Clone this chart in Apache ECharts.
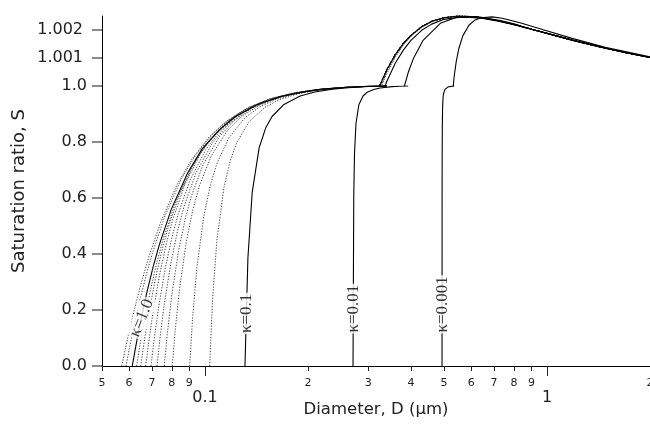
<!DOCTYPE html>
<html><head><meta charset="utf-8">
<script src="https://cdn.jsdelivr.net/npm/echarts@6/dist/echarts.min.js"></script>
<style>html,body{margin:0;padding:0;background:#fff}#c{width:650px;height:429px}</style>
</head><body><div id="c"></div>
<script>
// ---- tick labels ----
const minorTickD = [0.05,0.06,0.07,0.08,0.09,0.2,0.3,0.4,0.5,0.6,0.7,0.8,0.9,2];
const minorTickText = ['5','6','7','8','9','2','3','4','5','6','7','8','9','2'];
const majorTickD = [0.1,1];
const majorTickText = ['0.1','1'];
const yHighTicks = [1.001,1.002];

// ---- curves: [diameter (um), saturation ratio] ----
const k120 = [[0.0571,0],[0.05824,0.0503],[0.05996,0.1202],[0.06281,0.2235],[0.06567,0.3125],[0.06852,0.3893],[0.07423,0.5137],[0.0828,0.6468],[0.09136,0.7375],[0.10278,0.8176],[0.1142,0.8696],[0.13133,0.9175],[0.15417,0.9525],[0.18272,0.9748]];
const k110 = [[0.05875,0],[0.05993,0.0546],[0.06169,0.1296],[0.06463,0.2389],[0.06756,0.3316],[0.0705,0.4103],[0.07638,0.5356],[0.08519,0.6669],[0.094,0.7545],[0.10575,0.831],[0.1175,0.8798],[0.13513,0.9246],[0.15863,0.957],[0.188,0.9773]];
const k100 = [[0.0613,0],[0.06253,0.0597],[0.06437,0.1406],[0.06743,0.2566],[0.0705,0.3528],[0.07356,0.4335],[0.07969,0.5593],[0.08889,0.6881],[0.09808,0.7755],[0.11034,0.8444],[0.1226,0.8901],[0.141,0.9316],[0.16551,0.9613],[0.19616,0.98]];
const k090 = [[0.06313,0],[0.06439,0.0658],[0.06629,0.1538],[0.06944,0.2772],[0.0726,0.3773],[0.07576,0.4598],[0.08207,0.5856],[0.09154,0.7109],[0.10101,0.7911],[0.11363,0.8587],[0.12626,0.901],[0.1452,0.9389],[0.17045,0.9658],[0.20202,0.9827]];
const k080 = [[0.06486,0],[0.06616,0.0734],[0.0681,0.1698],[0.07135,0.3015],[0.07459,0.4055],[0.07783,0.4895],[0.08432,0.6145],[0.09405,0.7355],[0.10378,0.8109],[0.11675,0.8736],[0.12972,0.912],[0.14918,0.9463],[0.17512,0.9705],[0.20755,0.9853]];
const k070 = [[0.06709,0],[0.06843,0.0829],[0.07044,0.1894],[0.0738,0.3303],[0.07715,0.4385],[0.08051,0.5233],[0.08722,0.6464],[0.09728,0.7615],[0.10734,0.8317],[0.12076,0.8888],[0.13418,0.9235],[0.15431,0.9539],[0.18114,0.9752],[0.21469,0.988]];
const k065 = [[0.06953,0],[0.07092,0.0887],[0.07301,0.2008],[0.07648,0.3468],[0.07996,0.4567],[0.08344,0.5418],[0.09039,0.6633],[0.10082,0.7751],[0.11125,0.8423],[0.12515,0.8963],[0.13906,0.9289],[0.15992,0.9575],[0.18773,0.9773],[0.2225,0.9892]];
const k058 = [[0.0724,0],[0.07385,0.0981],[0.07602,0.2197],[0.07964,0.373],[0.08326,0.4853],[0.08688,0.5702],[0.09412,0.6888],[0.10498,0.7951],[0.11584,0.8576],[0.13032,0.9073],[0.1448,0.937],[0.16652,0.9627],[0.19548,0.9804],[0.23168,0.9911]];
const k050 = [[0.07603,0],[0.07755,0.1121],[0.07983,0.2461],[0.08363,0.4084],[0.08743,0.5226],[0.09124,0.6066],[0.09884,0.7206],[0.11024,0.8192],[0.12165,0.876],[0.13685,0.9202],[0.15206,0.9463],[0.17487,0.9687],[0.20528,0.9839],[0.2433,0.9931]];
const k043 = [[0.08024,0],[0.08184,0.1278],[0.08425,0.275],[0.08826,0.4455],[0.09228,0.5604],[0.09629,0.6425],[0.10431,0.7506],[0.11635,0.8415],[0.12838,0.8925],[0.14443,0.9317],[0.16048,0.9545],[0.18455,0.9739],[0.21665,0.987],[0.25677,0.9947]];
const k030 = [[0.09022,0],[0.09202,0.1733],[0.09473,0.3521],[0.09924,0.5358],[0.10375,0.6474],[0.10826,0.7221],[0.11729,0.8141],[0.13082,0.8864],[0.14435,0.9251],[0.1624,0.9537],[0.18044,0.9701],[0.20751,0.9837],[0.24359,0.9928],[0.2887,0.9978],[0.30,0.99868],[0.32,0.99973],[0.34,1.0005],[0.36,1.00106],[0.38,1.00147],[0.40,1.00178],[0.43,1.0021],[0.46,1.00229]];
const k020 = [[0.1032,0],[0.10526,0.239],[0.10836,0.4493],[0.11352,0.6351],[0.11868,0.7355],[0.12384,0.7979],[0.13416,0.8703],[0.14964,0.9239],[0.16512,0.9513],[0.18576,0.9712],[0.2064,0.9821],[0.23736,0.9911],[0.27864,0.9969],[0.30,0.99859],[0.32,0.99967],[0.34,1.00044],[0.36,1.00103],[0.38,1.00146],[0.40,1.00177],[0.43,1.00209],[0.46,1.00229]];
const k010 = [[0.1309,0],[0.13352,0.3857],[0.13745,0.6212],[0.14399,0.7793],[0.15054,0.8506],[0.15708,0.8911],[0.17017,0.9343],[0.18981,0.9641],[0.20944,0.9785],[0.23562,0.9885],[0.2618,0.9939],[0.30107,0.9981],[0.32,0.99927],[0.34,1.00016],[0.36,1.00081],[0.38,1.00128],[0.40,1.00163],[0.43,1.00199],[0.46,1.00221],[0.50,1.00238],[0.55,1.00245],[0.60,1.00245],[0.65,1.00241],[0.72,1.00231],[0.80,1.00219]];
const k001 = [[0.2709,0],[0.27226,0.6059],[0.27361,0.7577],[0.27632,0.8662],[0.28174,0.9328],[0.28986,0.9644],[0.29799,0.9776],[0.31154,0.9878],[0.32508,0.9928],[0.35217,0.99765],[0.37926,0.99982],[0.3928,1.00048],[0.40635,1.00097],[0.43344,1.00162],[0.48762,1.00224],[0.5418,1.00245],[0.6231,1.00248],[0.7314,1.00234],[0.80,1.00222]];
const k0001 = [[0.4932,0],[0.49345,0.6027],[0.49369,0.7534],[0.49419,0.861],[0.49517,0.9273],[0.49665,0.9588],[0.49813,0.9722],[0.50306,0.988],[0.51293,0.99612],[0.52772,0.99955],[0.53512,1.00033],[0.54252,1.00086],[0.55238,1.00134],[0.56718,1.00179],[0.59184,1.00218],[0.6165,1.00236],[0.64116,1.00244],[0.69048,1.00247],[0.7398,1.00242],[0.83844,1.00225],[0.9864,1.00199],[1.1837,1.0017],[1.4796,1.00138],[2.0,1.00104]];
// common approach to S = 1 for the kappa >= 0.4 curves, and the common Kelvin branch
const tailLow = [[0.22,0.9887],[0.26,0.9955]];
const tailRise = [[0.30,0.99885],[0.32,0.99985],[0.34,1.00058],[0.36,1.00112],[0.38,1.00152],[0.40,1.00181],[0.43,1.00212],[0.46,1.00231]];
const tailPeak = [[0.50,1.00244],[0.55,1.0025],[0.60,1.00248],[0.65,1.00243],[0.72,1.00233]];
const tailKelvin = [[0.80,1.0022],[0.90,1.00203],[1.0,1.00188],[1.2,1.00162],[1.4,1.00142],[1.7,1.00119],[2.0,1.00102]];

// curve labels
const labelText = ['κ=1.0','κ=0.1','κ=0.01','κ=0.001'];
const labelD = [0.0653,0.1321,0.2712,0.4934];
const labelS = [0.171,0.188,0.205,0.22];

// ---- build ----
const L = v => Math.log10(v);
const XMIN = L(0.05), XMAX = L(2);
const curves = [
  {pts: k120.concat(tailLow, tailRise, tailPeak, tailKelvin), dotted: true},
  {pts: k110.concat(tailLow, tailRise, tailPeak, tailKelvin), dotted: true},
  {pts: k090.concat(tailLow, tailRise, tailPeak, tailKelvin), dotted: true},
  {pts: k080.concat(tailLow, tailRise, tailPeak, tailKelvin), dotted: true},
  {pts: k070.concat(tailLow.slice(1), tailRise, tailPeak, tailKelvin), dotted: true},
  {pts: k065.concat(tailLow.slice(1), tailRise, tailPeak, tailKelvin), dotted: true},
  {pts: k058.concat(tailLow.slice(1), tailRise, tailPeak, tailKelvin), dotted: true},
  {pts: k050.concat(tailLow.slice(1), tailRise, tailPeak, tailKelvin), dotted: true},
  {pts: k043.concat(tailRise, tailPeak, tailKelvin), dotted: true},
  {pts: k030.concat(tailPeak, tailKelvin), dotted: true},
  {pts: k020.concat(tailPeak, tailKelvin), dotted: true},
  {pts: k100.concat(tailLow, tailRise, tailPeak, tailKelvin), dotted: false},
  {pts: k010.concat(tailKelvin.slice(1)), dotted: false},
  {pts: k001.concat(tailKelvin.slice(1)), dotted: false},
  {pts: k0001, dotted: false}
];
// split each curve at S = 1: lower panel up to the first point above 1, upper panel from the last point below 1
function lowerPart(pts) {
  const out = [];
  for (const p of pts) { out.push(p); if (p[1] > 1) break; }
  return out;
}
function upperPart(pts) {
  let k = 0;
  for (let i = 0; i < pts.length; i++) if (pts[i][1] < 1) k = i;
  return pts.slice(k);
}
const series = [];
curves.forEach(c => {
  const parts = [lowerPart(c.pts), upperPart(c.pts)];
  [0, 1].forEach(g => {
    series.push({
      type: 'line', xAxisIndex: g, yAxisIndex: g, data: parts[g].map(p => [L(p[0]), p[1]]),
      showSymbol: false, clip: true, silent: true, z: c.dotted ? 2 : 3,
      lineStyle: c.dotted ? {color: '#3a3a3a', width: 1, type: [1.2, 1.6]} : {color: '#000', width: 1.1}
    });
  });
});
const labelRot = [68, 90, 90, 90];
series.push({
  type: 'scatter', xAxisIndex: 0, yAxisIndex: 0, symbolSize: 1, z: 10, silent: true,
  itemStyle: {color: 'rgba(0,0,0,0)'},
  data: labelText.map((t, i) => ({value: [L(labelD[i]), labelS[i]], name: t,
    label: {rotate: labelRot[i]}})),
  label: {show: true, position: 'inside', formatter: p => p.name, color: '#000',
    fontFamily: 'Liberation Serif', fontSize: 17, backgroundColor: '#fff', padding: [0, 1]}
});

const fmt = (vals, texts) => v => {
  for (let i = 0; i < vals.length; i++) if (Math.abs(L(vals[i]) - v) < 1e-6) return texts[i];
  return '';
};
const tickFont = 'DejaVu Sans';
const chart = echarts.init(document.getElementById('c'), null, {renderer: 'canvas'});
const gridBase = {left: 102, width: 548, outerBoundsMode: 'none', containLabel: false};
chart.setOption({
  animation: false,
  backgroundColor: '#fff',
  grid: [
    Object.assign({top: 86, height: 280}, gridBase),
    Object.assign({top: 16, height: 70}, gridBase),
    Object.assign({top: 16, height: 350}, gridBase)
  ],
  xAxis: [
    {gridIndex: 0, type: 'value', min: XMIN, max: XMAX, splitLine: {show: false},
      axisLine: {show: true, onZero: false, lineStyle: {color: '#000', width: 1}},
      axisTick: {show: true, customValues: minorTickD.map(L), length: 5, lineStyle: {color: '#222'}},
      axisLabel: {customValues: minorTickD.map(L), formatter: fmt(minorTickD, minorTickText),
        fontSize: 11, margin: 12, color: '#222', fontFamily: tickFont}},
    {gridIndex: 1, type: 'value', min: XMIN, max: XMAX, show: false, axisLine: {onZero: false}},
    {gridIndex: 2, type: 'value', min: XMIN, max: XMAX, splitLine: {show: false},
      axisLine: {show: false, onZero: false},
      axisTick: {show: true, customValues: majorTickD.map(L), length: 10, lineStyle: {color: '#222'}},
      axisLabel: {customValues: majorTickD.map(L), formatter: fmt(majorTickD, majorTickText),
        fontSize: 16, margin: 24, color: '#222', fontFamily: tickFont},
      name: 'Diameter, D (μm)', nameLocation: 'middle', nameGap: 35, nameMoveOverlap: false,
      nameTextStyle: {fontSize: 16.5, color: '#222', fontFamily: tickFont}}
  ],
  yAxis: [
    {gridIndex: 0, type: 'value', min: 0, max: 1, interval: 0.2, splitLine: {show: false},
      axisLine: {show: true, onZero: false, lineStyle: {color: '#000', width: 1}},
      axisTick: {show: true, length: 10, lineStyle: {color: '#666', width: 1.5}},
      axisLabel: {formatter: v => v.toFixed(1), fontSize: 16, margin: 15, color: '#222', fontFamily: tickFont}},
    {gridIndex: 1, type: 'value', min: 1, max: 1.0025, splitLine: {show: false},
      axisLine: {show: true, onZero: false, lineStyle: {color: '#000', width: 1}},
      axisTick: {show: true, customValues: yHighTicks, length: 10, lineStyle: {color: '#666', width: 1.5}},
      axisLabel: {customValues: yHighTicks, formatter: v => v.toFixed(3), fontSize: 16, margin: 19, color: '#222', fontFamily: tickFont}},
    {gridIndex: 2, type: 'value', min: 0, max: 1, splitLine: {show: false},
      axisLine: {show: false, onZero: false}, axisTick: {show: false}, axisLabel: {show: false},
      name: 'Saturation ratio, S', nameLocation: 'middle', nameGap: 74, nameMoveOverlap: false,
      nameTextStyle: {fontSize: 18, color: '#222', fontFamily: tickFont}}
  ],
  series: series
});
</script></body></html>
